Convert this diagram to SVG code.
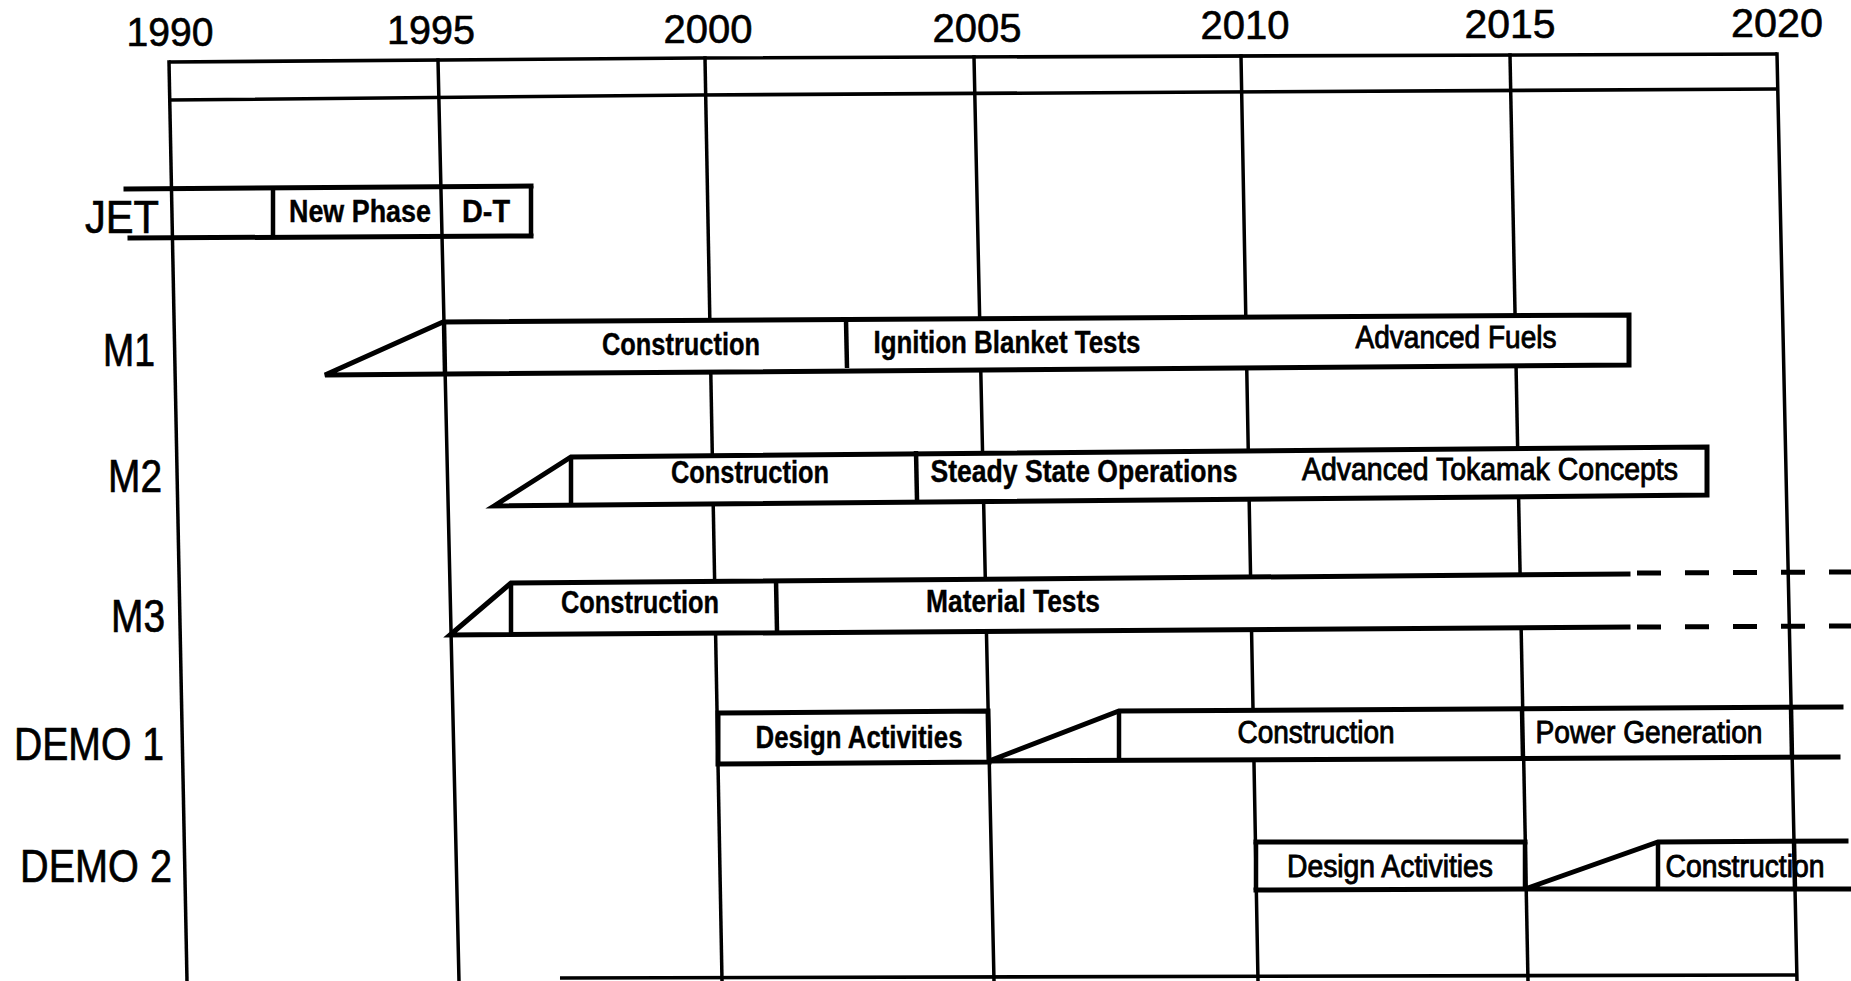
<svg xmlns="http://www.w3.org/2000/svg" width="1851" height="981" viewBox="0 0 1851 981">
  <style>
    text { font-family: "Liberation Sans", Arial, Helvetica, sans-serif; fill: #000; }
    .yr { font-size: 41px; text-anchor: middle; stroke: #000; stroke-width: 0.6; }
    .row { font-size: 46px; stroke: #000; stroke-width: 0.7; }
    .lb { font-size: 31px; font-weight: bold; text-anchor: middle; stroke: #000; stroke-width: 0.4; }
    .lr { font-size: 31px; text-anchor: middle; stroke: #000; stroke-width: 0.9; }
    .grid { stroke: #000; stroke-width: 3.5; fill: none; stroke-linecap: square; }
    .frame { stroke: #000; stroke-width: 3.6; fill: none; }
    .fill { fill: #fff; stroke: none; }
    .bar { stroke: #000; stroke-width: 5; fill: none; stroke-linecap: square; stroke-linejoin: miter; }
    .div { stroke: #000; stroke-width: 4.5; fill: none; }
    .dash { stroke: #000; stroke-width: 5; fill: none; stroke-dasharray: 24 24; }
  </style>

  <rect x="0" y="0" width="1851" height="981" fill="#fff"/>

  <!-- time axis: header band, year labels and the vertical year lines -->
  <g id="axis">
    <polyline class="frame" points="169,62 700,58 1777,54"/>
    <polyline class="frame" points="169,100 700,95 1220,92 1777,89"/>
    <line class="frame" x1="560" y1="978" x2="1797" y2="975"/>
    <text class="yr" x="170" y="46" textLength="87" lengthAdjust="spacingAndGlyphs">1990</text>
    <text class="yr" x="431" y="44" textLength="88" lengthAdjust="spacingAndGlyphs">1995</text>
    <text class="yr" x="708" y="43" textLength="89" lengthAdjust="spacingAndGlyphs">2000</text>
    <text class="yr" x="977" y="42" textLength="89" lengthAdjust="spacingAndGlyphs">2005</text>
    <text class="yr" x="1245" y="39" textLength="89" lengthAdjust="spacingAndGlyphs">2010</text>
    <text class="yr" x="1510" y="38" textLength="91" lengthAdjust="spacingAndGlyphs">2015</text>
    <text class="yr" x="1777" y="37" textLength="92" lengthAdjust="spacingAndGlyphs">2020</text>
  </g>

  <g id="grid">
    <line class="grid" x1="169" y1="62" x2="187" y2="981"/>
    <line class="grid" x1="438" y1="60" x2="459" y2="981"/>
    <line class="grid" x1="705" y1="58" x2="722" y2="981"/>
    <line class="grid" x1="974" y1="57" x2="994" y2="981"/>
    <line class="grid" x1="1241" y1="56" x2="1258" y2="981"/>
    <line class="grid" x1="1510" y1="55" x2="1528" y2="981"/>
    <line class="grid" x1="1777" y1="54" x2="1797" y2="981"/>
  </g>

  <!-- JET -->
  <g id="row-jet">
    <text class="row" x="85" y="233" textLength="74" lengthAdjust="spacingAndGlyphs">JET</text>
    <line class="bar" x1="126" y1="189" x2="531" y2="186"/>
    <line class="bar" x1="130" y1="238" x2="531" y2="236"/>
    <line class="div" x1="273" y1="189" x2="273" y2="238"/>
    <line class="div" x1="531" y1="186" x2="531" y2="236"/>
    <text class="lb" x="360" y="222" textLength="142" lengthAdjust="spacingAndGlyphs">New Phase</text>
    <text class="lb" x="486" y="222" textLength="48" lengthAdjust="spacingAndGlyphs">D-T</text>
  </g>

  <!-- M1 -->
  <g id="row-m1">
    <text class="row" x="103" y="366" textLength="52" lengthAdjust="spacingAndGlyphs">M1</text>
    <polygon class="fill" points="325,375 443,322 1629,315 1629,365"/>
    <polygon class="bar" points="325,375 443,322 1629,315 1629,365"/>
    <line class="div" x1="444" y1="322" x2="445" y2="374"/>
    <line class="div" x1="846" y1="320" x2="847" y2="368"/>
    <text class="lb" x="681" y="355" textLength="158" lengthAdjust="spacingAndGlyphs">Construction</text>
    <text class="lb" x="1007" y="353" textLength="267" lengthAdjust="spacingAndGlyphs">Ignition Blanket Tests</text>
    <text class="lr" x="1456" y="348" textLength="201" lengthAdjust="spacingAndGlyphs">Advanced Fuels</text>
  </g>

  <!-- M2 -->
  <g id="row-m2">
    <text class="row" x="108" y="492" textLength="54" lengthAdjust="spacingAndGlyphs">M2</text>
    <polygon class="fill" points="494,506 571,457 1707,447 1707,495"/>
    <polygon class="bar" points="494,506 571,457 1707,447 1707,495"/>
    <line class="div" x1="571" y1="457" x2="571" y2="505"/>
    <line class="div" x1="916" y1="451" x2="917" y2="500"/>
    <text class="lb" x="750" y="483" textLength="158" lengthAdjust="spacingAndGlyphs">Construction</text>
    <text class="lb" x="1084" y="482" textLength="307" lengthAdjust="spacingAndGlyphs">Steady State Operations</text>
    <text class="lr" x="1490" y="480" textLength="376" lengthAdjust="spacingAndGlyphs">Advanced Tokamak Concepts</text>
  </g>

  <!-- M3: open-ended, continues dashed past the frame -->
  <g id="row-m3">
    <text class="row" x="111" y="632" textLength="54" lengthAdjust="spacingAndGlyphs">M3</text>
    <polygon class="fill" points="450,635 511,583 1628,574 1628,627"/>
    <polyline class="bar" points="1628,574 511,583 450,635 1628,627"/>
    <line class="div" x1="511" y1="583" x2="511" y2="634"/>
    <line class="div" x1="776" y1="580" x2="777" y2="631"/>
    <line class="dash" x1="1637" y1="573" x2="1851" y2="572"/>
    <line class="dash" x1="1637" y1="627" x2="1851" y2="626"/>
    <text class="lb" x="640" y="613" textLength="158" lengthAdjust="spacingAndGlyphs">Construction</text>
    <text class="lb" x="1013" y="612" textLength="174" lengthAdjust="spacingAndGlyphs">Material Tests</text>
  </g>

  <!-- DEMO 1 -->
  <g id="row-demo1">
    <text class="row" x="14" y="760" textLength="150" lengthAdjust="spacingAndGlyphs">DEMO 1</text>
    <polygon class="fill" points="718,713 988,711 989,762 718,764"/>
    <polygon class="bar" points="718,713 988,711 989,762 718,764"/>
    <polygon class="fill" points="989,761 1119,711 1841,707 1838,757"/>
    <polyline class="bar" points="1841,707 1119,711 989,761 1838,757"/>
    <line class="div" x1="1119" y1="711" x2="1119" y2="760"/>
    <line class="div" x1="1522" y1="709" x2="1523" y2="759"/>
    <line class="div" x1="1791" y1="707" x2="1792" y2="758"/>
    <text class="lb" x="859" y="748" textLength="207" lengthAdjust="spacingAndGlyphs">Design Activities</text>
    <text class="lr" x="1316" y="743" textLength="157" lengthAdjust="spacingAndGlyphs">Construction</text>
    <text class="lr" x="1649" y="743" textLength="227" lengthAdjust="spacingAndGlyphs">Power Generation</text>
  </g>

  <!-- DEMO 2 -->
  <g id="row-demo2">
    <text class="row" x="20" y="882" textLength="152" lengthAdjust="spacingAndGlyphs">DEMO 2</text>
    <polygon class="fill" points="1256,842 1525,842 1525,889 1256,890"/>
    <line class="bar" x1="1256" y1="842" x2="1525" y2="842"/>
    <line class="bar" x1="1256" y1="890" x2="1525" y2="889"/>
    <line class="div" x1="1256" y1="842" x2="1256" y2="890"/>
    <line class="div" x1="1525" y1="842" x2="1525" y2="889"/>
    <polygon class="fill" points="1525,889 1658,842 1846,841 1851,889"/>
    <polyline class="bar" points="1846,841 1658,842 1525,889 1851,889"/>
    <line class="div" x1="1658" y1="842" x2="1658" y2="888"/>
    <text class="lr" x="1390" y="877" textLength="206" lengthAdjust="spacingAndGlyphs">Design Activities</text>
    <text class="lr" x="1745" y="877" textLength="159" lengthAdjust="spacingAndGlyphs">Construction</text>
    <line class="div" x1="1794" y1="841" x2="1795" y2="890"/>
  </g>
</svg>
